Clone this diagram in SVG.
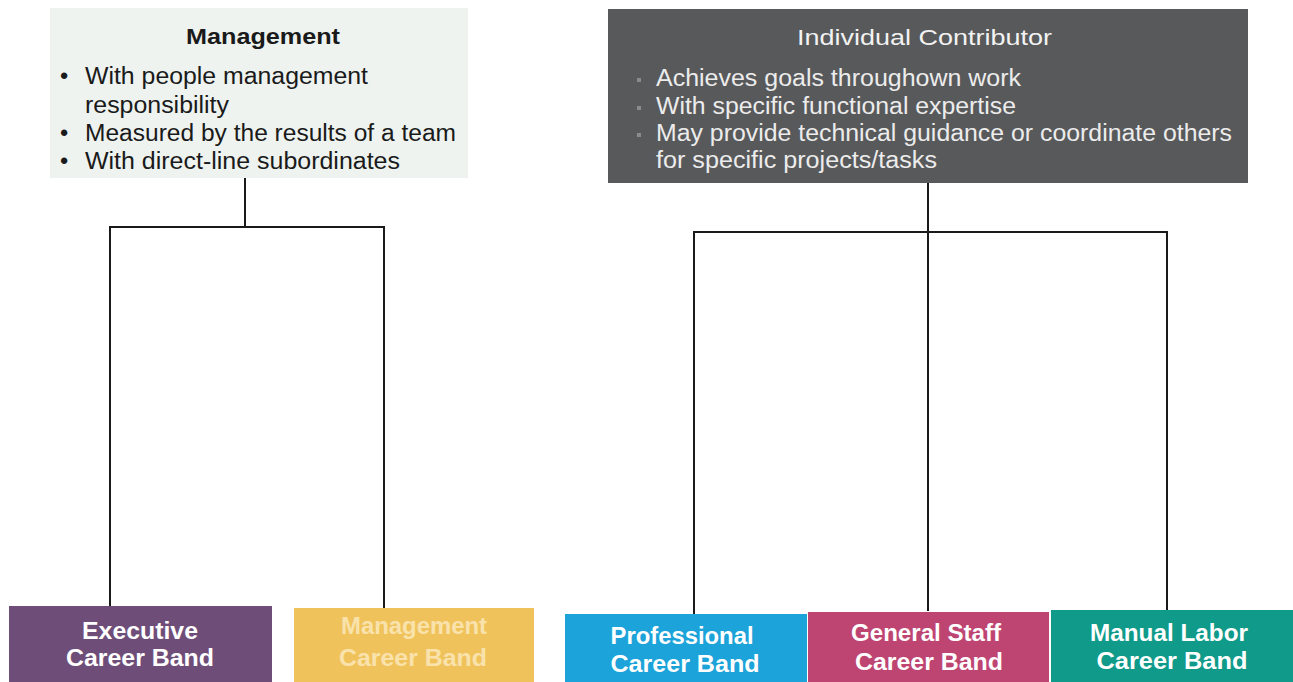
<svg xmlns="http://www.w3.org/2000/svg" width="1293" height="682" viewBox="0 0 1293 682">
<style>
.conn{stroke:#1a1a1a;stroke-width:2;fill:none}
text{font-family:"Liberation Sans",Arial,sans-serif}
.mtitle{font-size:22px;font-weight:bold;fill:#1a1a1a}
.mtext{font-size:23.5px;fill:#1a1a1a}
.ititle{font-size:22px;fill:#f2f2f2}
.itext{font-size:23px;fill:#ececec}
.band{font-size:24px;font-weight:bold;fill:#ffffff;text-anchor:middle}
.pale{fill:#f9e2ac}
</style>
<rect width="1293" height="682" fill="#ffffff"/>
<g id="connectors">
<polyline class="conn" points="245,178 245,227"/>
<polyline class="conn" points="110,606 110,227 384,227 384,608"/>
<polyline class="conn" points="928,183 928,611"/>
<polyline class="conn" points="694,614 694,232 1167,232 1167,610"/>
</g>
<g id="management">
<rect x="50" y="8" width="418" height="170" fill="#eef3f0"/>
<text class="mtitle" x="186" y="44" textLength="154" lengthAdjust="spacingAndGlyphs">Management</text>
<text class="mtext" x="60" y="84">•</text>
<text class="mtext" x="85" y="84" textLength="283" lengthAdjust="spacingAndGlyphs">With people management</text>
<text class="mtext" x="85" y="113" textLength="144" lengthAdjust="spacingAndGlyphs">responsibility</text>
<text class="mtext" x="60" y="141">•</text>
<text class="mtext" x="85" y="141" textLength="371" lengthAdjust="spacingAndGlyphs">Measured by the results of a team</text>
<text class="mtext" x="60" y="169">•</text>
<text class="mtext" x="85" y="169" textLength="315" lengthAdjust="spacingAndGlyphs">With direct-line subordinates</text>
</g>
<g id="individual-contributor">
<rect x="608" y="9" width="640" height="174" fill="#58595b"/>
<text class="ititle" x="797" y="45" textLength="255" lengthAdjust="spacingAndGlyphs">Individual Contributor</text>
<g fill="#8a8b8d"><rect x="637" y="78" width="4" height="4"/><rect x="637" y="106" width="4" height="4"/><rect x="637" y="133" width="4" height="4"/></g>
<text class="itext" x="656" y="86" textLength="365" lengthAdjust="spacingAndGlyphs">Achieves goals throughown work</text>
<text class="itext" x="656" y="114" textLength="360" lengthAdjust="spacingAndGlyphs">With specific functional expertise</text>
<text class="itext" x="656" y="141" textLength="576" lengthAdjust="spacingAndGlyphs">May provide technical guidance or coordinate others</text>
<text class="itext" x="656" y="168" textLength="281" lengthAdjust="spacingAndGlyphs">for specific projects/tasks</text>
</g>
<g id="executive-band">
<rect x="9" y="606" width="263" height="76" fill="#6f4d79"/>
<text class="band" x="140" y="639" textLength="116" lengthAdjust="spacingAndGlyphs">Executive</text>
<text class="band" x="140" y="666" textLength="148" lengthAdjust="spacingAndGlyphs">Career Band</text>
</g>
<g id="management-band">
<rect x="294" y="608" width="240" height="74" fill="#f0c25c"/>
<text class="band pale" x="414" y="634" textLength="146" lengthAdjust="spacingAndGlyphs">Management</text>
<text class="band pale" x="413" y="666" textLength="148" lengthAdjust="spacingAndGlyphs">Career Band</text>
</g>
<g id="professional-band">
<rect x="565" y="614" width="242" height="68" fill="#1ca3d9"/>
<text class="band" x="682" y="644" textLength="143" lengthAdjust="spacingAndGlyphs">Professional</text>
<text class="band" x="685" y="672" textLength="149" lengthAdjust="spacingAndGlyphs">Career Band</text>
</g>
<g id="general-staff-band">
<rect x="808" y="612" width="241" height="70" fill="#be4472"/>
<text class="band" x="926" y="641" textLength="150" lengthAdjust="spacingAndGlyphs">General Staff</text>
<text class="band" x="929" y="670" textLength="148" lengthAdjust="spacingAndGlyphs">Career Band</text>
</g>
<g id="manual-labor-band">
<rect x="1051" y="610" width="242" height="72" fill="#0f9a8a"/>
<text class="band" x="1169" y="641" textLength="158" lengthAdjust="spacingAndGlyphs">Manual Labor</text>
<text class="band" x="1172" y="669" textLength="151" lengthAdjust="spacingAndGlyphs">Career Band</text>
</g>
</svg>
